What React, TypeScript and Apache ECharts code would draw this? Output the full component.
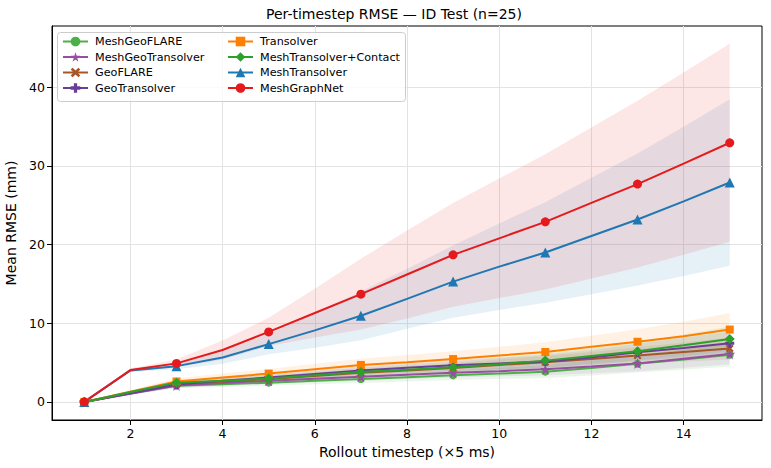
import React, { useEffect, useRef } from "react";
import * as echarts from "echarts";

const steps = [1, 2, 3, 4, 5, 6, 7, 8, 9, 10, 11, 12, 13, 14, 15];
const xTicks = [2, 4, 6, 8, 10, 12, 14];
const yTicks = [0, 10, 20, 30, 40];

const seriesNames = [
  "MeshGeoFLARE",
  "MeshGeoTransolver",
  "GeoFLARE",
  "GeoTransolver",
  "Transolver",
  "MeshTransolver+Contact",
  "MeshTransolver",
  "MeshGraphNet",
];

const meshGeoFLARE = [0, 1.1, 2.05, 2.25, 2.45, 2.7, 2.92, 3.15, 3.4, 3.6, 3.85, 4.3, 4.85, 5.4, 6.0];
const meshGeoFLAREStd = [0, 0.15, 0.3, 0.35, 0.4, 0.45, 0.5, 0.55, 0.6, 0.7, 0.8, 0.95, 1.1, 1.3, 1.5];
const meshGeoTransolver = [0, 1.05, 2.1, 2.4, 2.7, 2.95, 3.2, 3.45, 3.7, 3.9, 4.15, 4.5, 4.9, 5.5, 6.1];
const meshGeoTransolverStd = [0, 0.15, 0.3, 0.35, 0.4, 0.45, 0.5, 0.55, 0.6, 0.65, 0.75, 0.85, 1.0, 1.15, 1.3];
const geoFLARE = [0, 1.15, 2.3, 2.6, 2.9, 3.3, 3.7, 4.0, 4.3, 4.7, 5.05, 5.45, 5.9, 6.35, 6.8];
const geoFLAREStd = [0, 0.15, 0.3, 0.35, 0.4, 0.45, 0.5, 0.55, 0.6, 0.7, 0.8, 0.9, 1.05, 1.2, 1.4];
const geoTransolver = [0, 1.1, 2.2, 2.7, 3.1, 3.55, 4.0, 4.35, 4.65, 4.9, 5.15, 5.65, 6.3, 6.85, 7.45];
const geoTransolverStd = [0, 0.15, 0.3, 0.4, 0.45, 0.5, 0.55, 0.6, 0.7, 0.75, 0.85, 0.95, 1.1, 1.3, 1.5];
const transolver = [0, 1.3, 2.6, 3.1, 3.6, 4.15, 4.7, 5.05, 5.45, 5.9, 6.35, 7.0, 7.65, 8.35, 9.2];
const transolverStd = [0, 0.2, 0.4, 0.5, 0.6, 0.7, 0.8, 0.9, 1.0, 1.1, 1.25, 1.4, 1.6, 1.85, 2.1];
const meshTransolverContact = [0, 1.25, 2.45, 2.7, 2.97, 3.4, 3.8, 4.1, 4.4, 4.8, 5.25, 5.85, 6.45, 7.2, 8.0];
const meshTransolverContactStd = [0, 0.15, 0.3, 0.4, 0.45, 0.5, 0.55, 0.65, 0.7, 0.8, 0.9, 1.0, 1.15, 1.35, 1.6];
const meshTransolver = [0, 4.0, 4.55, 5.65, 7.35, 9.1, 10.95, 13.1, 15.3, 17.2, 19.0, 21.1, 23.2, 25.5, 27.9];
const meshTransolverStd = [0, 0.2, 0.4, 0.8, 1.3, 2.2, 3.1, 3.8, 4.6, 5.5, 6.4, 7.4, 8.4, 9.5, 10.6];
const meshGraphNet = [0, 4.05, 4.9, 6.6, 8.9, 11.3, 13.7, 16.2, 18.7, 20.8, 22.9, 25.3, 27.7, 30.3, 32.95];
const meshGraphNetStd = [0, 0.2, 0.5, 1.2, 1.8, 3.1, 4.5, 5.6, 6.6, 7.6, 8.6, 9.6, 10.6, 11.6, 12.6];

const STAR = "path://M50,0L61.2,34.5L97.6,34.5L68.2,55.9L79.4,90.5L50,69.1L20.6,90.5L31.8,55.9L2.4,34.5L38.8,34.5Z";
const XMARK = "path://M0,2L2,0L5,3L8,0L10,2L7,5L10,8L8,10L5,7L2,10L0,8L3,5Z";
const PLUS = "path://M3.3,0H6.7V3.3H10V6.7H6.7V10H3.3V6.7H0V3.3H3.3Z";

const styles = [
  { color: "#4daf4a", symbol: "circle", size: 8 },
  { color: "#984ea3", symbol: STAR, size: 11 },
  { color: "#a65628", symbol: XMARK, size: 8 },
  { color: "#6a3d9a", symbol: PLUS, size: 9 },
  { color: "#ff7f00", symbol: "rect", size: 8 },
  { color: "#2ca02c", symbol: "diamond", size: 10 },
  { color: "#1f77b4", symbol: "triangle", size: 10 },
  { color: "#e41a1c", symbol: "circle", size: 9 },
];

const means = [meshGeoFLARE, meshGeoTransolver, geoFLARE, geoTransolver, transolver, meshTransolverContact, meshTransolver, meshGraphNet];
const stds = [meshGeoFLAREStd, meshGeoTransolverStd, geoFLAREStd, geoTransolverStd, transolverStd, meshTransolverContactStd, meshTransolverStd, meshGraphNetStd];

const FONT = "DejaVu Sans";

export default function App() {
  const ref = useRef<HTMLDivElement>(null);
  useEffect(() => {
    if (!ref.current) return;
    const chart = echarts.init(ref.current, undefined, { renderer: "svg" });

    const bandSeries: any[] = [];
    const lineSeries: any[] = [];
    seriesNames.forEach((name, k) => {
      const st = styles[k];
      const m = means[k];
      const s = stds[k];
      const bandData = steps.map((x, i) => [x, m[i] - s[i], m[i] + s[i]]);
      bandSeries.push({
        type: "custom",
        name: "band-" + k,
        data: bandData,
        encode: { x: 0, y: [1, 2] },
        silent: true,
        z: 1,
        renderItem: (params: any, api: any) => {
          if (params.dataIndex !== 0) return null;
          const upper = bandData.map((d) => api.coord([d[0], d[2]]));
          const lower = bandData.map((d) => api.coord([d[0], d[1]])).reverse();
          return {
            type: "polygon",
            shape: { points: upper.concat(lower) },
            style: { fill: st.color, opacity: 0.11 },
          };
        },
      });
      lineSeries.push({
        type: "line",
        name,
        data: steps.map((x, i) => [x, m[i]]),
        symbol: st.symbol,
        symbolSize: (_v: any, p: any) => (p.dataIndex % 2 === 0 ? st.size : 0),
        showAllSymbol: true,
        color: st.color,
        lineStyle: { color: st.color, width: 2 },
        itemStyle: { color: st.color },
        z: 3,
      });
    });

    const legendCommon = {
      orient: "vertical",
      itemWidth: 25,
      itemHeight: 12,
      itemGap: 4.5,
      padding: 0,
      selectedMode: false,
      textStyle: { fontSize: 11.2, fontFamily: FONT, color: "#000", padding: [0, 0, 0, 2] },
      z: 10,
    };

    chart.setOption({
      animation: false,
      textStyle: { fontFamily: FONT },
      grid: {
        left: 52,
        right: 9,
        top: 26,
        bottom: 48,
        containLabel: false,
        outerBoundsMode: "none",
        show: true,
        borderColor: "#000",
        borderWidth: 1,
        backgroundColor: "transparent",
      },
      graphic: [
        {
          type: "text",
          x: 394,
          y: 14,
          style: {
            text: "Per-timestep RMSE — ID Test (n=25)",
            font: `14px "${FONT}"`,
            fill: "#000",
            textAlign: "center",
            textVerticalAlign: "middle",
          },
        },
        {
          type: "rect",
          shape: { x: 57.5, y: 32.5, width: 348, height: 69, r: 3 },
          style: { fill: "rgba(255,255,255,0.8)", stroke: "#cccccc", lineWidth: 1 },
          z: 8,
        },
      ],
      legend: [
        { ...legendCommon, data: seriesNames.slice(0, 4), left: 62, top: 36 },
        { ...legendCommon, data: seriesNames.slice(4), left: 227, top: 36 },
      ],
      xAxis: {
        type: "value",
        min: 0.3,
        max: 15.7,
        name: "Rollout timestep (×5 ms)",
        nameLocation: "middle",
        nameGap: 24,
        nameTextStyle: { fontSize: 14, color: "#000", fontFamily: FONT },
        axisLine: { show: true, onZero: false, lineStyle: { color: "#000", width: 1 } },
        axisTick: { show: true, customValues: xTicks, length: 5, lineStyle: { color: "#000" } },
        axisLabel: { customValues: xTicks, color: "#000", fontSize: 12.5, margin: 7, fontFamily: FONT },
        splitLine: { show: true, lineStyle: { color: "#e3e3e3", width: 1 } },
      },
      yAxis: {
        type: "value",
        min: -2.3,
        max: 47.8,
        name: "Mean RMSE (mm)",
        nameLocation: "middle",
        nameGap: 31,
        nameTextStyle: { fontSize: 14, color: "#000", fontFamily: FONT },
        axisLine: { show: true, onZero: false, lineStyle: { color: "#000", width: 1 } },
        axisTick: { show: true, customValues: yTicks, length: 5, lineStyle: { color: "#000" } },
        axisLabel: { customValues: yTicks, color: "#000", fontSize: 12.5, margin: 7, fontFamily: FONT },
        splitLine: { show: true, lineStyle: { color: "#e3e3e3", width: 1 } },
      },
      series: [...bandSeries, ...lineSeries],
    });

    return () => chart.dispose();
  }, []);

  return (
    <div
      ref={ref}
      style={{ position: "fixed", left: 0, top: 0, width: 771, height: 468, background: "#fff" }}
    />
  );
}
